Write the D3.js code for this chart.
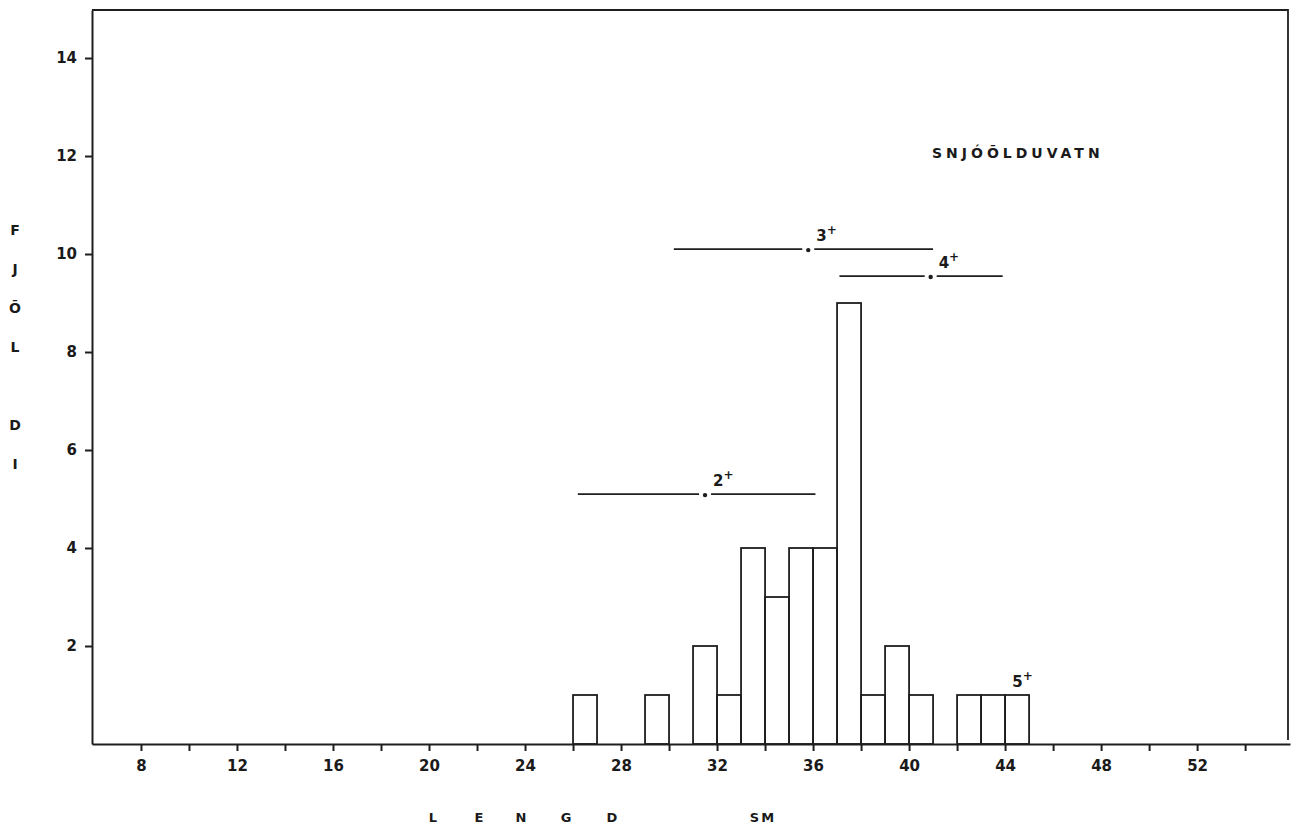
<!DOCTYPE html>
<html>
<head>
<meta charset="utf-8">
<script src="https://cdn.jsdelivr.net/npm/d3@7"></script>
<style>
  body { margin: 0; background: #fff; }
  text { font-family: "DejaVu Sans", sans-serif; fill: #1a1a1a; }
</style>
</head>
<body>
<div id="chart"></div>
<script>
// length bins (cm, lower edge) and counts
const binStart = [26, 27, 28, 29, 30, 31, 32, 33, 34, 35, 36, 37, 38, 39, 40, 41, 42, 43, 44];
const counts   = [1, 0, 0, 1, 0, 2, 1, 4, 3, 4, 4, 9, 1, 2, 1, 0, 1, 1, 1];

// age groups: range and mean length, drawn at a given height
const ageGroups = ["2", "3", "4"];
const ageLow    = [26.2, 30.2, 37.1];
const ageHigh   = [36.1, 41.0, 43.9];
const ageMean   = [31.5, 35.8, 40.9];
const ageLevel  = [5.1, 10.1, 9.55];

const xTicks = [8, 12, 16, 20, 24, 28, 32, 36, 40, 44, 48, 52];
const yTicks = [2, 4, 6, 8, 10, 12, 14];

const margin = { top: 10, right: 2, bottom: 85, left: 92 },
      width = 1292 - margin.left - margin.right,
      height = 829 - margin.top - margin.bottom;

const svg = d3.select("#chart").append("svg")
    .attr("width", 1292).attr("height", 829)
  .append("g")
    .attr("transform", `translate(${margin.left},${margin.top})`);

const x = d3.scaleLinear().domain([5.96, 55.87]).range([0, width]);
const y = d3.scaleLinear().domain([0, 14.98]).range([height, 0]);

const ink = "#1e1e1e";

// frame (top and right)
svg.append("path")
   .attr("d", `M0,0H${width - 2}V${height - 4}`)
   .attr("fill", "none").attr("stroke", ink).attr("stroke-width", 1.8);

// bars
svg.selectAll(".bar")
   .data(binStart.map((b, i) => ({ b, c: counts[i] })).filter(d => d.c > 0))
   .enter().append("rect")
   .attr("x", d => x(d.b))
   .attr("y", d => y(d.c))
   .attr("width", d => x(d.b + 1) - x(d.b))
   .attr("height", d => height - y(d.c))
   .attr("fill", "none").attr("stroke", ink).attr("stroke-width", 1.8);

// x axis
const xAxis = svg.append("g")
   .attr("transform", `translate(0,${height})`)
   .call(d3.axisBottom(x).tickValues(d3.range(8, 56, 2)).tickSize(7).tickSizeOuter(0)
         .tickFormat(d => xTicks.includes(d) ? d : ""));
xAxis.select(".domain").attr("stroke", ink).attr("stroke-width", 2);
xAxis.selectAll(".tick line").attr("stroke", ink).attr("stroke-width", 2);
xAxis.selectAll(".tick text").attr("dy", "1.15em").style("font-size", "15px").style("font-weight", "bold");

// y axis
const yAxis = svg.append("g")
   .call(d3.axisLeft(y).tickValues(yTicks).tickSize(7).tickSizeOuter(0));
yAxis.select(".domain").attr("stroke", ink).attr("stroke-width", 2);
yAxis.selectAll(".tick line").attr("stroke", ink).attr("stroke-width", 2);
yAxis.selectAll(".tick text").attr("x", -15).style("font-size", "15px").style("font-weight", "bold");

// age group ranges
ageGroups.forEach((g, i) => {
  const yy = y(ageLevel[i]), xm = x(ageMean[i]);
  svg.append("line").attr("x1", x(ageLow[i])).attr("x2", xm - 6)
     .attr("y1", yy).attr("y2", yy).attr("stroke", ink).attr("stroke-width", 1.8);
  svg.append("line").attr("x1", xm + 6).attr("x2", x(ageHigh[i]))
     .attr("y1", yy).attr("y2", yy).attr("stroke", ink).attr("stroke-width", 1.8);
  svg.append("circle").attr("cx", xm).attr("cy", yy + 1).attr("r", 2.2).attr("fill", ink);
  const t = svg.append("text").attr("x", xm + 8).attr("y", yy - 8)
     .style("font-size", "15px").style("font-weight", "bold");
  t.append("tspan").text(g);
  t.append("tspan").attr("dy", -7).style("font-size", "12px").text("+");
});

// 5+ label above the last bars
const t5 = svg.append("text").attr("x", x(44.3)).attr("y", y(1) - 8)
   .style("font-size", "15px").style("font-weight", "bold");
t5.append("tspan").text("5");
t5.append("tspan").attr("dy", -7).style("font-size", "12px").text("+");

// lake name
svg.append("text").attr("x", 932 - margin.left).attr("y", 158 - margin.top)
   .style("font-size", "14px").style("font-weight", "bold").style("letter-spacing", "4px")
   .text("SNJÓŌLDUVATN");

// y title, letter by letter
const yTitle = ["F", "J", "Ō", "L", "", "D", "I"];
yTitle.forEach((c, i) => {
  svg.append("text").attr("x", 15 - margin.left).attr("y", 235 + i * 39 - margin.top)
     .attr("text-anchor", "middle").style("font-size", "14px").style("font-weight", "bold").text(c);
});

// x title
const xTitle = [["L", 434], ["E", 480], ["N", 522], ["G", 567], ["D", 613], ["SM", 763]];
xTitle.forEach(([c, px]) => {
  svg.append("text").attr("x", px - margin.left).attr("y", 822 - margin.top)
     .attr("text-anchor", "middle").style("font-size", "13px").style("font-weight", "bold")
     .style("letter-spacing", "2px").text(c);
});
</script>
</body>
</html>
